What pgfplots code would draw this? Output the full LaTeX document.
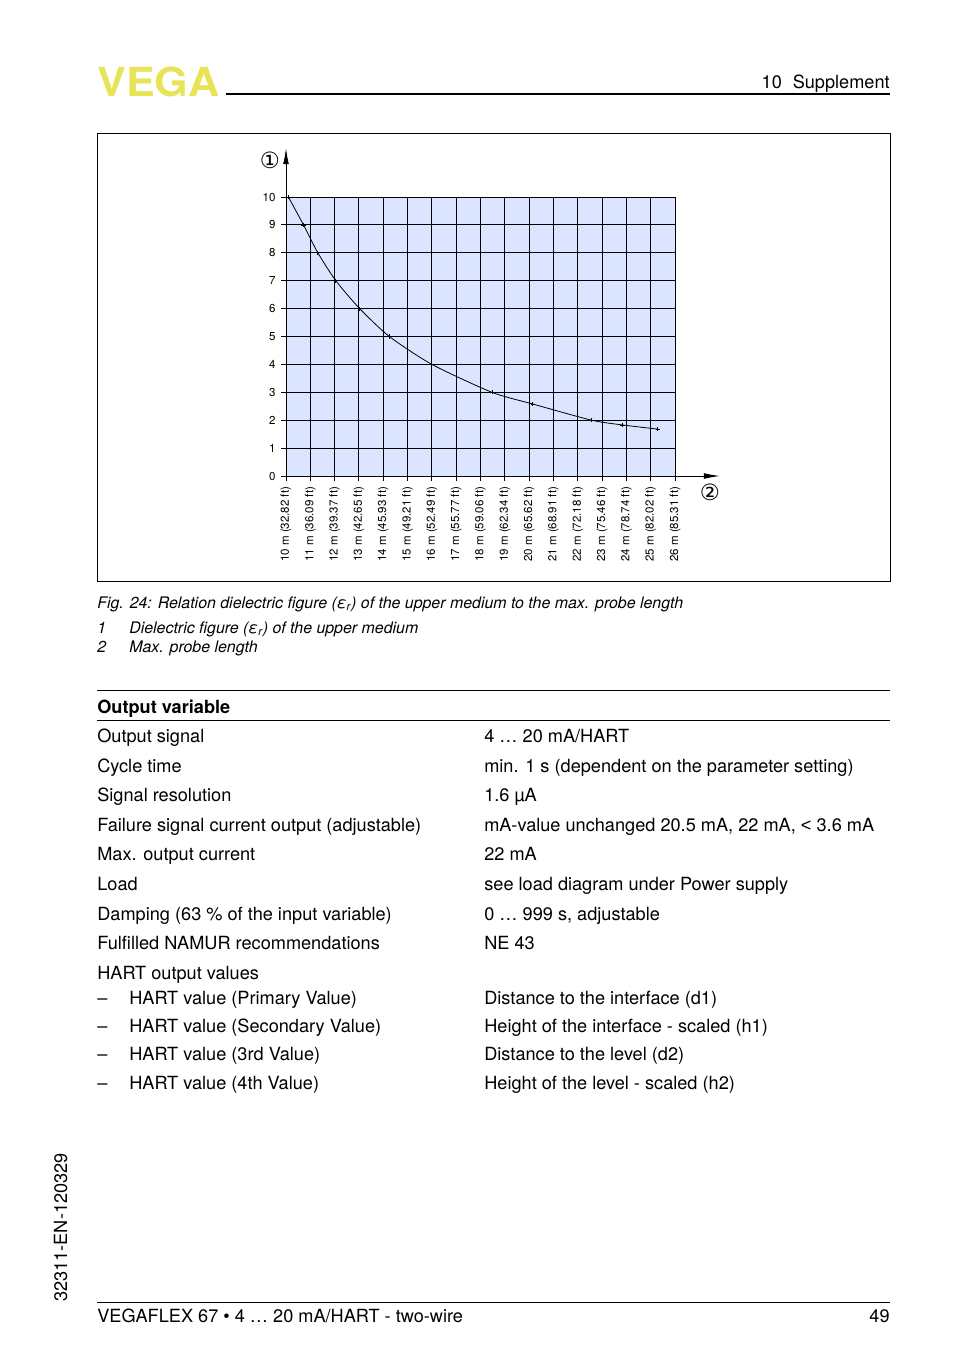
\documentclass[border=0pt]{standalone}
\usepackage{fontspec}
\setmainfont{TeX Gyre Heros}
\newfontfamily\dejavu{DejaVu Sans}
\newfontfamily\libsans{Liberation Sans}
\usepackage{pgfplots}
\pgfplotsset{compat=1.18}
\usetikzlibrary{arrows.meta}
\definecolor{vegayellow}{RGB}{232,228,88}
\definecolor{gridblue}{RGB}{219,229,255}
\newcommand\body{\fontsize{11.35}{13}\selectfont}
\newcommand\capt{\fontsize{9.95}{11}\selectfont\itshape}

\begin{document}
\begin{tikzpicture}
% page, in pixels of the reference (y down)
\begin{scope}[x=0.625pt, y=-0.625pt]
  \path (0,0) rectangle (954,1354);
  % header
  \node[anchor=base west, inner sep=0, text=vegayellow, xscale=1.08,
        font=\fontsize{25}{25}\selectfont\bfseries] at (97,96) {VEGA};
  \draw[line width=0.8pt] (226,94) -- (890,94);
  \node[anchor=base east, inner sep=0, font=\body] at (890,88) {10\hspace{0.6em}Supplement};
  % frame round the figure
  \draw[line width=0.6pt] (97,133) rectangle (890,581);
  \node[font=\dejavu\fontsize{14}{14}\selectfont, inner sep=0] at (270,160) {①};
  \node[font=\dejavu\fontsize{14}{14}\selectfont, inner sep=0] at (710,492) {②};
  % caption and legend
  \node[anchor=base west, inner sep=0, font=\capt] at (97,608)
    {Fig. 24: Relation dielectric figure (ε\textsubscript{r}) of the upper medium to the max. probe length};
  \node[anchor=base west, inner sep=0, font=\capt] at (97,633) {1};
  \node[anchor=base west, inner sep=0, font=\capt] at (129,633) {Dielectric figure (ε\textsubscript{r}) of the upper medium};
  \node[anchor=base west, inner sep=0, font=\capt] at (97,652) {2};
  \node[anchor=base west, inner sep=0, font=\capt] at (129,652) {Max. probe length};
  % table
  \draw[line width=0.6pt] (97,690) -- (890,690);
  \node[anchor=base west, inner sep=0, font=\body\bfseries] at (97,713) {Output variable};
  \draw[line width=0.6pt] (97,720) -- (890,720);
  \foreach \y/\l/\r in {
      742/Output signal/{4 … 20 mA/HART},
      772/Cycle time/min. 1 s (dependent on the parameter setting),
      801/Signal resolution/1.6 µA,
      831/Failure signal current output (adjustable)/{mA-value unchanged 20.5 mA, 22 mA, {\libsans <} 3.6 mA},
      860/Max. output current/22 mA,
      890/Load/see load diagram under Power supply,
      920/Damping (63 \% of the input variable)/{0 … 999 s, adjustable},
      949/Fulfilled NAMUR recommendations/NE 43,
      979/HART output values/{}} {
    \node[anchor=base west, inner sep=0, font=\body] at (97,\y) {\l};
    \node[anchor=base west, inner sep=0, font=\body] at (484,\y) {\r};
  }
  \foreach \y/\l/\r in {
      1004/HART value (Primary Value)/Distance to the interface (d1),
      1032/HART value (Secondary Value)/Height of the interface - scaled (h1),
      1060/HART value (3rd Value)/Distance to the level (d2),
      1089/HART value (4th Value)/Height of the level - scaled (h2)} {
    \node[anchor=base west, inner sep=0, font=\body] at (97,\y) {–};
    \node[anchor=base west, inner sep=0, font=\body] at (129,\y) {\l};
    \node[anchor=base west, inner sep=0, font=\body] at (484,\y) {\r};
  }
  % margin and footer
  \node[rotate=90, anchor=base west, inner sep=0, font=\body] at (67,1302) {32311-EN-120329};
  \draw[line width=0.6pt] (97,1302) -- (890,1302);
  \node[anchor=base west, inner sep=0, font=\body] at (97,1322) {VEGAFLEX 67 • 4 … 20 mA/HART - two-wire};
  \node[anchor=base east, inner sep=0, font=\body] at (890,1322) {49};
\end{scope}

\begin{axis}[
    at={(178.75pt,-297.5pt)}, anchor=south west,
    scale only axis, width=243.125pt, height=174.375pt,
    xmin=10, xmax=26, ymin=0, ymax=10,
    axis lines=left,
    axis line style={line width=0.6pt},
    x axis line style={-{Latex[length=10pt,width=3.6pt]}, shorten >=-28.1pt},
    y axis line style={-{Latex[length=10pt,width=3.6pt]}, shorten >=-30.6pt},
    xtick={10,...,26}, ytick={0,...,10},
    xticklabels={10 m (32.82 ft),11 m (36.09 ft),12 m (39.37 ft),13 m (42.65 ft),
      14 m (45.93 ft),15 m (49.21 ft),16 m (52.49 ft),17 m (55.77 ft),
      18 m (59.06 ft),19 m (62.34 ft),20 m (65.62 ft),21 m (68.91 ft),
      22 m (72.18 ft),23 m (75.46 ft),24 m (78.74 ft),25 m (82.02 ft),26 m (85.31 ft)},
    tick label style={font=\fontsize{7.2}{8}\selectfont},
    /pgf/number format/assume math mode=true,
    x tick label style={rotate=90, anchor=east},
    grid=major, grid style={black, line width=0.6pt},
    tick style={black, line width=0.6pt},
    tick align=outside, major tick length=3pt,
    axis background/.style={fill=gridblue},
    clip=false,
  ]
  \addplot[black, line width=0.5pt, smooth, tension=0.4, mark=+, mark size=1.3pt] coordinates {
    (10.1,10) (10.72,9) (11.31,8) (12.05,7) (13.03,6) (14.25,5)
    (16.0,4) (18.47,3) (20.15,2.58) (22.57,2.0) (23.84,1.83) (25.29,1.68)
  };
\end{axis}
\end{tikzpicture}
\end{document}
